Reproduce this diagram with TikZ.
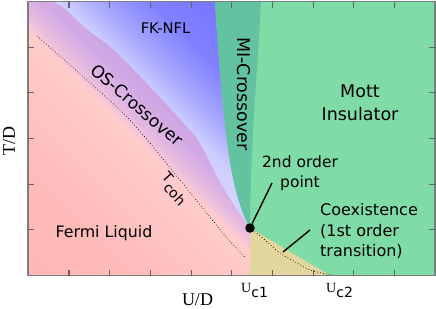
\documentclass[tikz,border=0pt]{standalone}
\usepackage{fontspec}
\setmainfont{DejaVu Sans}
\newfontfamily\axisfont{Liberation Serif}
\usepackage{tikz}
\usetikzlibrary{arrows.meta}

\definecolor{insgreen}{RGB}{128,220,166}
\definecolor{migreen}{RGB}{99,195,160}
\definecolor{coexcol}{RGB}{226,214,158}
\definecolor{framegray}{RGB}{125,125,125}
\definecolor{fl1}{RGB}{255,176,176}
\definecolor{fl2}{RGB}{255,186,186}
\definecolor{fl3}{RGB}{255,204,204}
\definecolor{os1}{RGB}{246,199,216}
\definecolor{os2}{RGB}{228,186,224}
\definecolor{os3}{RGB}{212,172,228}
\definecolor{os4}{RGB}{205,165,230}
\definecolor{nf1}{RGB}{216,212,255}
\definecolor{nf2}{RGB}{214,212,255}
\definecolor{nf3}{RGB}{205,205,255}
\definecolor{nf4}{RGB}{165,165,255}
\definecolor{nf5}{RGB}{128,128,255}
\definecolor{nf6}{RGB}{120,120,255}

% gradients across the crossover regions (400pt square turned by 45 degrees)
\pgfdeclarehorizontalshading{fermishade}{100bp}{color(0bp)=(fl1); color(36.1bp)=(fl2); color(49.2bp)=(fl3); color(49.7bp)=(os1); color(50.7bp)=(os2); color(52.9bp)=(os3); color(54.7bp)=(os4); color(100bp)=(os4)}
\pgfdeclarehorizontalshading{nflshade}{100bp}{color(0bp)=(nf1); color(52bp)=(nf2); color(54.7bp)=(nf3); color(58.2bp)=(nf4); color(62.6bp)=(nf5); color(67.1bp)=(nf6); color(100bp)=(nf6)}

\begin{document}
\begin{tikzpicture}[
    x=1pt, y=-1pt,
    every node/.style={inner sep=0pt},
    phase/.style={font=\fontsize{16}{20.5}\selectfont},
    axislbl/.style={font=\axisfont\fontsize{18}{18}\selectfont},
    uclbl/.style={font=\fontsize{14}{14}\selectfont, anchor=base west},
    tick/.style={draw=framegray!80!black, line width=1.1pt},
    dotline/.style={line width=0.7pt, dash pattern=on 0.7pt off 2.3pt},
    pointer/.style={line width=1.4pt},
    critpt/.style={circle, fill=black, minimum size=9.5pt, inner sep=0pt},
    diag/.style={transform canvas={rotate around={45:(145,138)}}}
]
\useasboundingbox (0,0) rectangle (436,308);

% Mott insulator background
\fill[insgreen] (28,1.5) rectangle (435,275.5);

% Fermi liquid and OS-crossover
\begin{scope}
  \clip (28,1.5) -- (215,1.5) .. controls (222,110) and (228,190) .. (250,228) -- (250,275.5) -- (28,275.5) -- cycle;
  \begin{scope}[diag]
    \shade[shading=fermishade] (-55,-62) rectangle (345,338);
  \end{scope}
\end{scope}

% FK-NFL
\begin{scope}
  \clip plot[smooth] coordinates {(52,1.5) (64,8) (88,30) (112,48) (140,76) (170,108) (198,140) (218,178) (236,208) (250,228)}
    .. controls (228,190) and (222,110) .. (215,1.5) -- cycle;
  \begin{scope}[diag]
    \shade[shading=nflshade] (-55,-62) rectangle (345,338);
  \end{scope}
\end{scope}

% MI-crossover band and coexistence region
\fill[migreen] (215,1.5) .. controls (222,110) and (228,190) .. (250,228)
  .. controls (250,150) and (257,80) .. (261,1.5) -- cycle;
\fill[coexcol] (250,228) -- (330,275.5) -- (250,275.5) -- cycle;

% T_coh and first order line
\draw[dotline] plot[smooth] coordinates {(37,36) (80,74) (130,120) (180,180) (227,238) (246,258)};
\draw[dotline] plot[smooth] coordinates {(250,228) (265,240) (280,253) (297,263) (310,270) (330,275)};

% frame and ticks
\draw[framegray, line width=1.3pt] (28,1.5) rectangle (435,275.5);
\foreach \k in {1,...,9} {
  \draw[tick] (28.3+40.7*\k, 1.5) -- ++(0,6);
  \draw[tick] (28.3+40.7*\k, 275.5) -- ++(0,-6);
}
\foreach \k in {1,...,5} {
  \draw[tick] (28, 1.5+45.67*\k) -- ++(6,0);
  \draw[tick] (435, 1.5+45.67*\k) -- ++(-6,0);
}

% labels
\node[phase, font=\fontsize{14.7}{18}\selectfont, anchor=base] (nfl) at (165.5,33) {FK-NFL};
\node[phase, font=\fontsize{17.5}{23.4}\selectfont, rotate=-90] (mix) at (243.5,94) {MI-Crossover};
\node[phase, font=\fontsize{17.5}{23.4}\selectfont, align=center] (mott) at (360,103) {Mott\\Insulator};
\node[phase, font=\fontsize{17}{20}\selectfont, rotate=-41] (osx) at (137,105) {OS-Crossover};
\node[phase, font=\fontsize{14}{16}\selectfont, rotate=-48] (tcoh) at (174,189) {T\raisebox{-6pt}{coh}};
\node[phase, font=\fontsize{15.8}{20}\selectfont, anchor=base] (fermi) at (104,237) {Fermi Liquid};
\node[phase, font=\fontsize{15.5}{19.5}\selectfont, align=center] (second) at (300,173) {2nd order\\point};
\node[phase, align=left, anchor=west] (coex) at (320,231) {Coexistence\\(1st order\\transition)};

% critical end point and pointers
\node[critpt] (crit) at (250,228) {};
\coordinate (secondtip) at (272,183);
\coordinate (coextip) at (310,230);
\coordinate (coexend) at (283,252);
\draw[pointer] (secondtip) -- (crit);
\draw[pointer] (coextip) -- (coexend);

% axes
\node[axislbl, rotate=90] (tlbl) at (9,141) {T/D};
\node[axislbl, anchor=base] (ulbl) at (197.5,305) {U/D};
\node[uclbl] (uc1) at (241,292) {{\axisfont U}\raisebox{-5pt}{c1}};
\node[uclbl] (uc2) at (326,292) {{\axisfont U}\raisebox{-5pt}{c2}};

\end{tikzpicture}
\end{document}
